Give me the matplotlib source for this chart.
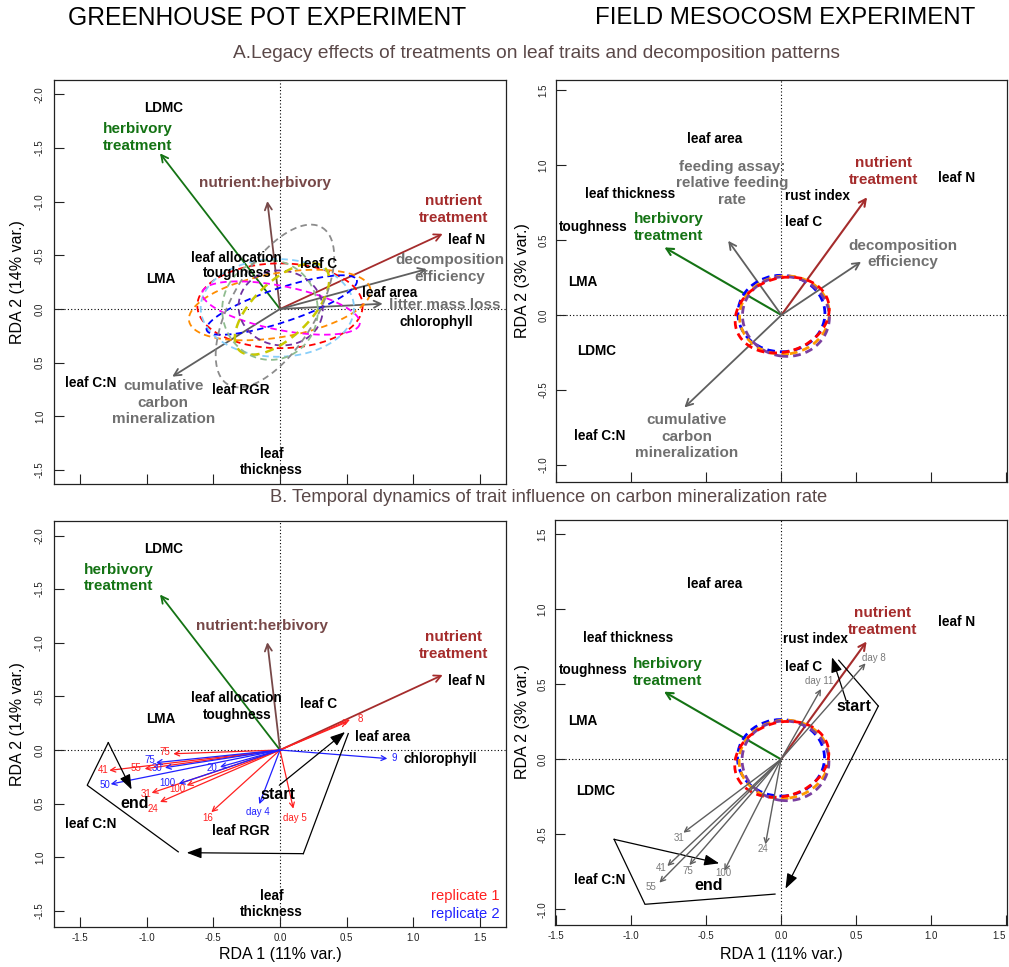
import matplotlib
matplotlib.use('Agg')
import numpy as np
import matplotlib.pyplot as plt
from matplotlib.patches import Ellipse
from matplotlib import font_manager as fm

plt.rcParams['axes.unicode_minus'] = False
plt.rcParams['font.family'] = ['Liberation Sans', 'DejaVu Sans']

_names = {f.name for f in fm.fontManager.ttflist}
NARROW = 'Liberation Sans Narrow' if 'Liberation Sans Narrow' in _names else 'Liberation Sans'

# ---------------- colours ----------------
C_GREEN = '#147314'
C_BROWN = '#a52c2c'
C_NH = '#774848'
C_GRAYT = '#707070'
C_GRAYA = '#5f5f5f'
C_RED = '#ff2020'
C_BLUE = '#2020ff'
C_DAY = '#7a7a7a'
C_SEC = '#5a4848'

# ---------------- ticks ----------------
x_ticks = [-1.5, -1.0, -0.5, 0.0, 0.5, 1.0, 1.5]
x_ticklabels = ['-1.5', '-1.0', '-0.5', '0.0', '0.5', '1.0', '1.5']
gh_yticks = [-2.0, -1.5, -1.0, -0.5, 0.0, 0.5, 1.0, 1.5]
gh_yticklabels = ['-2.0', '-1.5', '-1.0', '-0.5', '0.0', '0.5', '1.0', '-1.5']
fm_yticks = [-1.0, -0.5, 0.0, 0.5, 1.0, 1.5]
fm_yticklabels = ['-1.0', '-0.5', '0.0', '0.5', '1.0', '1.5']

# ---------------- GREENHOUSE: treatment vectors ----------------
gh_treat_x = [-0.90, -0.095, 1.22]
gh_treat_y = [-1.45, -1.005, -0.70]
gh_treat_colors = [C_GREEN, C_NH, C_BROWN]
gh_treat_names = ['herbivory\ntreatment', 'nutrient:herbivory', 'nutrient\ntreatment']
gh_treat_lab_x_A = [-1.067, -0.113, 1.305]
gh_treat_lab_y_A = [-1.595, -1.170, -0.928]
gh_treat_lab_x_B = [-1.208, -0.133, 1.305]
gh_treat_lab_y_B = [-1.605, -1.154, -0.974]

# greenhouse response vectors (panel A)
gh_resp_names = ['decomposition\nefficiency', 'litter mass loss', 'cumulative\ncarbon\nmineralization']
gh_resp_x = [1.10, 0.77, -0.808]
gh_resp_y = [-0.372, -0.049, 0.630]
gh_resp_lab_x = [1.275, 1.238, -0.875]
gh_resp_lab_y = [-0.379, -0.037, 0.872]

# greenhouse trait labels
gh_trait_names = ['LDMC', 'LMA', 'leaf allocation', 'toughness', 'leaf C', 'leaf N',
                  'leaf area', 'chlorophyll', 'leaf C:N', 'leaf RGR', 'leaf\nthickness']
gh_trait_x_A = [-0.875, -0.895, -0.330, -0.320, 0.287, 1.400, 0.820, 1.175, -1.420, -0.295, -0.062]
gh_trait_y_A = [-1.869, -0.279, -0.478, -0.332, -0.416, -0.642, -0.146, 0.118, 0.692, 0.754, 1.422]
gh_trait_x_B = [-0.875, -0.895, -0.330, -0.320, 0.287, 1.400, 0.770, 1.200, -1.420, -0.295, -0.062]
gh_trait_y_B = [-1.879, -0.286, -0.485, -0.330, -0.426, -0.641, -0.121, 0.080, 0.693, 0.758, 1.433]

# greenhouse confidence ellipses (centre + two conjugate semi-diameters)
gh_ell_colors = ['#ff0000', '#ff8c00', '#87cefa', '#0000ff', '#ff00ff', '#7030a0', '#c8c800', '#8fbc8f', '#8c8c8c']
gh_ell_cx = [0.0, -0.002, -0.020, 0.013, 0.008, 0.005, 0.015, -0.075, -0.038]
gh_ell_cy = [-0.03, -0.037, -0.010, -0.037, -0.009, -0.010, 0.000, 0.010, -0.028]
gh_ell_ux = [0.620, 0.680, 0.575, 0.563, 0.590, 0.310, 0.323, 0.355, 0.353]
gh_ell_uy = [0.000, -0.149, 0.000, -0.233, 0.150, 0.080, -0.382, -0.060, -0.731]
gh_ell_vx = [0.000, -0.042, 0.000, 0.040, -0.041, -0.060, 0.145, 0.050, 0.270]
gh_ell_vy = [0.395, -0.293, 0.455, 0.150, 0.198, 0.340, 0.189, 0.460, 0.201]

# greenhouse temporal arrows (panel B)
rep1_labels = ['8', '', '75', '41', '55', '31', '24', '100', '16', 'day 5']
rep1_x = [0.525, 0.505, -0.800, -1.280, -1.015, -0.963, -0.900, -0.700, -0.515, 0.100]
rep1_y = [-0.283, -0.262, 0.035, 0.190, 0.175, 0.400, 0.485, 0.330, 0.580, 0.547]
rep1_lab_x = [0.600, 0.600, -0.863, -1.326, -1.080, -1.008, -0.950, -0.768, -0.543, 0.113]
rep1_lab_y = [-0.289, -0.289, 0.019, 0.190, 0.170, 0.407, 0.547, 0.365, 0.631, 0.634]
rep2_labels = ['9', '75', '30', '50', '20', '100', 'day 4']
rep2_x = [0.805, -0.930, -0.863, -1.270, -0.450, -0.760, -0.155]
rep2_y = [0.080, 0.118, 0.165, 0.318, 0.158, 0.315, 0.505]
rep2_lab_x = [0.858, -0.975, -0.925, -1.313, -0.508, -0.845, -0.163]
rep2_lab_y = [0.075, 0.095, 0.172, 0.323, 0.168, 0.307, 0.578]

# greenhouse trajectory (start -> end)
gh_path1_x = [-0.005, 0.488]
gh_path1_y = [0.329, -0.168]
gh_path2_x = [0.512, 0.175, -0.700]
gh_path2_y = [-0.153, 0.967, 0.958]
gh_path3_x = [-0.763, -1.446, -1.288, -1.113]
gh_path3_y = [0.950, 0.329, -0.069, 0.369]
gh_start_xy = (-0.018, 0.413)
gh_end_xy = (-1.093, 0.500)

# ---------------- FIELD: treatment vectors ----------------
fm_treat_x = [-0.78, 0.571]
fm_treat_y = [0.451, 0.785]
fm_treat_colors = [C_GREEN, C_BROWN]
fm_treat_names = ['herbivory\ntreatment', 'nutrient\ntreatment']
fm_treat_lab_x_A = [-0.751, 0.678]
fm_treat_lab_y_A = [0.582, 0.956]
fm_treat_lab_x_B = [-0.756, 0.678]
fm_treat_lab_y_B = [0.578, 0.917]

fm_resp_names = ['feeding assay:\nrelative feeding\nrate', 'decomposition\nefficiency',
                 'cumulative\ncarbon\nmineralization']
fm_resp_x = [-0.355, 0.531, -0.647]
fm_resp_y = [0.495, 0.355, -0.616]
fm_resp_lab_x = [-0.329, 0.811, -0.633]
fm_resp_lab_y = [0.878, 0.407, -0.811]

fm_trait_names = ['leaf area', 'leaf N', 'leaf thickness', 'rust index', 'toughness',
                  'leaf C', 'LMA', 'LDMC', 'leaf C:N']
fm_trait_x_A = [-0.445, 1.171, -1.011, 0.238, -1.255, 0.149, -1.322, -1.235, -1.211]
fm_trait_y_A = [1.171, 0.911, 0.804, 0.796, 0.589, 0.618, 0.222, -0.240, -0.807]
fm_trait_x_B = [-0.445, 1.171, -1.018, 0.233, -1.255, 0.149, -1.322, -1.235, -1.211]
fm_trait_y_B = [1.167, 0.913, 0.807, 0.800, 0.593, 0.613, 0.255, -0.211, -0.805]

fm_ell_colors = ['#0000ff', '#ff9900', '#7b3fa0', '#ff0000']
fm_ell_cx = [0.000, 0.020, 0.030, 0.005]
fm_ell_cy = [0.010, 0.000, -0.010, 0.000]
fm_ell_w = [0.58, 0.60, 0.58, 0.64]
fm_ell_h = [0.51, 0.52, 0.53, 0.49]
fm_ell_ang = [0, 8, -8, 18]

fm_day_labels = ['day 8', 'day 11', '31', '24', '41', '55', '75', '100']
fm_day_x = [0.564, 0.267, -0.651, -0.104, -0.758, -0.811, -0.611, -0.378]
fm_day_y = [0.640, 0.469, -0.489, -0.567, -0.711, -0.822, -0.705, -0.742]
fm_day_lab_x = [0.622, 0.255, -0.678, -0.118, -0.802, -0.867, -0.618, -0.385]
fm_day_lab_y = [0.677, 0.524, -0.522, -0.600, -0.727, -0.849, -0.745, -0.760]

fm_path1_x = [0.435, 0.340]
fm_path1_y = [0.390, 0.680]
fm_path2_x = [0.385, 0.649, 0.030]
fm_path2_y = [0.660, 0.355, -0.862]
fm_path3_x = [-0.040, -0.907, -1.113, -0.412]
fm_path3_y = [-0.898, -0.966, -0.533, -0.693]
fm_start_xy = (0.489, 0.355)
fm_end_xy = (-0.480, -0.838)

# ---------------- figure ----------------
W, H = 1009, 967
fig = plt.figure(figsize=(W / 100, H / 100), dpi=100)


def add_ax(x0, y0, x1, y1):
    return fig.add_axes([x0 / W, 1 - y1 / H, (x1 - x0) / W, (y1 - y0) / H])


ax_tl = add_ax(54, 80, 506, 484)
ax_tr = add_ax(556, 80, 1007, 482)
ax_bl = add_ax(54, 521, 506, 927)
ax_br = add_ax(555, 520, 1007, 925)


def style(ax, xlim, ylim, yticks, yticklabels, xlabels, ypad):
    ax.set_xlim(*xlim)
    ax.set_ylim(*ylim)
    ax.set_xticks(x_ticks)
    ax.set_xticklabels(x_ticklabels if xlabels else [])
    ax.set_yticks(yticks)
    ax.set_yticklabels(yticklabels)
    ax.tick_params(direction='in', length=7, width=0.8, labelsize=7, colors='#222222')
    ax.tick_params(axis='x', pad=4)
    ax.tick_params(axis='y', pad=ypad)
    for lab in ax.get_yticklabels():
        lab.set_rotation(90)
        lab.set_va('center')
    for sp in ax.spines.values():
        sp.set_linewidth(0.9)
        sp.set_color('#222222')
    ax.axhline(0, color='k', lw=0.8, ls=(0, (1, 2)), zorder=1)
    ax.axvline(0, color='k', lw=0.8, ls=(0, (1, 2)), zorder=1)


style(ax_tl, (-1.695, 1.695), (1.63, -2.133), gh_yticks, gh_yticklabels, False, 6.5)
style(ax_bl, (-1.695, 1.695), (1.651, -2.136), gh_yticks, gh_yticklabels, True, 6.5)
style(ax_tr, (-1.503, 1.504), (-1.113, 1.567), fm_yticks, fm_yticklabels, False, 5.5)
style(ax_br, (-1.507, 1.507), (-1.104, 1.595), fm_yticks, fm_yticklabels, True, 5.5)
# keep the last tick label of the right edge inside the figure
ax_br.get_xticklabels()[-1].set_ha('right')


def arrow(ax, x0, y0, x1, y1, color, lw, hl=0.55, hw=0.28, ms=9, st='->', z=3):
    ax.annotate('', xy=(x1, y1), xytext=(x0, y0),
                arrowprops=dict(arrowstyle=f'{st},head_length={hl},head_width={hw}',
                                color=color, lw=lw, shrinkA=0, shrinkB=0, mutation_scale=ms),
                zorder=z)


def label(ax, x, y, s, color='black', size=9.8, weight='bold', ls=1.2):
    ax.text(x, y, s, color=color, fontsize=size, fontweight=weight, ha='center', va='center',
            linespacing=ls, zorder=6)


def path(ax, xs, ys):
    ax.plot(xs[:-1], ys[:-1], color='black', lw=0.9, zorder=4, solid_joinstyle='miter')
    arrow(ax, xs[-2], ys[-2], xs[-1], ys[-1], 'black', 0.9, hl=0.75, hw=0.28, ms=12, st='-|>', z=4)


t = np.linspace(0, 2 * np.pi, 300)

# ======== Panel A greenhouse ========
ax = ax_tl
for x1, y1, c in zip(gh_treat_x, gh_treat_y, gh_treat_colors):
    arrow(ax, 0, 0, x1, y1, c, 1.3)
for x1, y1 in zip(gh_resp_x, gh_resp_y):
    arrow(ax, 0, 0, x1, y1, C_GRAYA, 1.3)
for c, cx, cy, ux, uy, vx, vy in zip(gh_ell_colors, gh_ell_cx, gh_ell_cy, gh_ell_ux, gh_ell_uy,
                                      gh_ell_vx, gh_ell_vy):
    lw = 1.8 if c == '#c8c800' else 1.3
    ax.plot(cx + ux * np.cos(t) + vx * np.sin(t), cy + uy * np.cos(t) + vy * np.sin(t),
            color=c, lw=lw, ls=(0, (3.6, 2.4)), zorder=4)
for s, x, y in zip(gh_trait_names, gh_trait_x_A, gh_trait_y_A):
    label(ax, x, y, s)
for s, x, y, c in zip(gh_treat_names, gh_treat_lab_x_A, gh_treat_lab_y_A, gh_treat_colors):
    label(ax, x, y, s, color=c, size=11, ls=1.25)
for s, x, y in zip(gh_resp_names, gh_resp_lab_x, gh_resp_lab_y):
    label(ax, x, y, s, color=C_GRAYT, size=11, ls=1.25)

# ======== Panel B greenhouse ========
ax = ax_bl
for x1, y1, c in zip(gh_treat_x, gh_treat_y, gh_treat_colors):
    arrow(ax, 0, 0, x1, y1, c, 1.3)
for s, x1, y1, lx, ly in zip(rep1_labels, rep1_x, rep1_y, rep1_lab_x, rep1_lab_y):
    arrow(ax, 0, 0, x1, y1, C_RED, 0.9, hl=0.5, hw=0.25, ms=7)
    if s:
        ax.text(lx, ly, s, color=C_RED, fontsize=7, ha='center', va='center', zorder=6)
for s, x1, y1, lx, ly in zip(rep2_labels, rep2_x, rep2_y, rep2_lab_x, rep2_lab_y):
    arrow(ax, 0, 0, x1, y1, C_BLUE, 0.9, hl=0.5, hw=0.25, ms=7)
    ax.text(lx, ly, s, color=C_BLUE, fontsize=7, ha='center', va='center', zorder=6)
path(ax, gh_path1_x, gh_path1_y)
path(ax, gh_path2_x, gh_path2_y)
path(ax, gh_path3_x, gh_path3_y)
label(ax, gh_start_xy[0], gh_start_xy[1], 'start', size=11.5)
label(ax, gh_end_xy[0], gh_end_xy[1], 'end', size=11.5)
for s, x, y in zip(gh_trait_names, gh_trait_x_B, gh_trait_y_B):
    label(ax, x, y, s)
for s, x, y, c in zip(gh_treat_names, gh_treat_lab_x_B, gh_treat_lab_y_B, gh_treat_colors):
    label(ax, x, y, s, color=c, size=11, ls=1.25)
ax.text(0.985, 0.076, 'replicate 1', color=C_RED, fontsize=10.6, ha='right', va='center',
        transform=ax.transAxes)
ax.text(0.985, 0.033, 'replicate 2', color=C_BLUE, fontsize=10.6, ha='right', va='center',
        transform=ax.transAxes)

# ======== Panel A field ========
ax = ax_tr
for x1, y1, c in zip(fm_treat_x, fm_treat_y, fm_treat_colors):
    arrow(ax, 0, 0, x1, y1, c, 1.5)
for x1, y1 in zip(fm_resp_x, fm_resp_y):
    arrow(ax, 0, 0, x1, y1, C_GRAYA, 1.3)
for c, cx, cy, w, h, a in zip(fm_ell_colors, fm_ell_cx, fm_ell_cy, fm_ell_w, fm_ell_h, fm_ell_ang):
    ax.add_patch(Ellipse((cx, cy), w, h, angle=a, fill=False, edgecolor=c, lw=2.0,
                         ls=(0, (2.8, 1.8)), zorder=4))
for s, x, y in zip(fm_trait_names, fm_trait_x_A, fm_trait_y_A):
    label(ax, x, y, s)
for s, x, y, c in zip(fm_treat_names, fm_treat_lab_x_A, fm_treat_lab_y_A, fm_treat_colors):
    label(ax, x, y, s, color=c, size=11, ls=1.25)
for s, x, y in zip(fm_resp_names, fm_resp_lab_x, fm_resp_lab_y):
    label(ax, x, y, s, color=C_GRAYT, size=11, ls=1.25)

# ======== Panel B field ========
ax = ax_br
for x1, y1, c in zip(fm_treat_x, fm_treat_y, fm_treat_colors):
    arrow(ax, 0, 0, x1, y1, c, 1.5)
for c, cx, cy, w, h, a in zip(fm_ell_colors, fm_ell_cx, fm_ell_cy, fm_ell_w, fm_ell_h, fm_ell_ang):
    ax.add_patch(Ellipse((cx, cy), w, h, angle=a, fill=False, edgecolor=c, lw=2.0,
                         ls=(0, (2.8, 1.8)), zorder=4))
for s, x1, y1, lx, ly in zip(fm_day_labels, fm_day_x, fm_day_y, fm_day_lab_x, fm_day_lab_y):
    arrow(ax, 0, 0, x1, y1, C_GRAYA, 1.0, hl=0.5, hw=0.25, ms=7, z=5)
    ax.text(lx, ly, s, color=C_DAY, fontsize=7, ha='center', va='center', zorder=6)
path(ax, fm_path1_x, fm_path1_y)
path(ax, fm_path2_x, fm_path2_y)
path(ax, fm_path3_x, fm_path3_y)
label(ax, fm_start_xy[0], fm_start_xy[1], 'start', size=11.5)
label(ax, fm_end_xy[0], fm_end_xy[1], 'end', size=11.5)
for s, x, y in zip(fm_trait_names, fm_trait_x_B, fm_trait_y_B):
    label(ax, x, y, s)
for s, x, y, c in zip(fm_treat_names, fm_treat_lab_x_B, fm_treat_lab_y_B, fm_treat_colors):
    label(ax, x, y, s, color=c, size=11, ls=1.25)

# ---------------- axis titles ----------------
for yc, s in [(282, 'RDA 2 (14% var.)'), (724, 'RDA 2 (14% var.)')]:
    fig.text(18 / W, 1 - yc / H, s, rotation=90, ha='center', va='center', fontsize=11.5)
for yc, s in [(281, 'RDA 2 (3% var.)'), (722, 'RDA 2 (3% var.)')]:
    fig.text(522 / W, 1 - yc / H, s, rotation=90, ha='center', va='center', fontsize=11.5)
for xc in (280, 781):
    fig.text(xc / W, 1 - 955 / H, 'RDA 1 (11% var.)', ha='center', va='center', fontsize=11.5)

# ---------------- headings (fitted to measured widths) ----------------
renderer = fig.canvas.get_renderer()


def heading(xc, yc, s, target_w, color, base):
    tt = fig.text(xc / W, 1 - yc / H, s, ha='center', va='center', fontsize=base,
                  family=[NARROW, 'DejaVu Sans'], color=color)
    w = tt.get_window_extent(renderer).width
    tt.set_fontsize(base * target_w / w)


heading(267, 18, 'GREENHOUSE POT EXPERIMENT', 398, 'black', 20)
heading(785, 18, 'FIELD MESOCOSM EXPERIMENT', 380, 'black', 20)
heading(536.5, 54, 'A.Legacy effects of treatments on leaf traits and decomposition patterns', 613, C_SEC, 14)
heading(548.5, 497, 'B. Temporal dynamics of trait influence on carbon mineralization rate', 563, C_SEC, 14)

fig.savefig('out.png', dpi=100)
